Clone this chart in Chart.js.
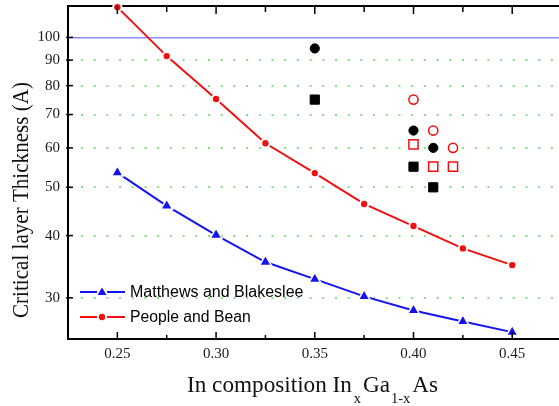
<!DOCTYPE html>
<html>
<head>
<meta charset="utf-8">
<script src="https://cdn.jsdelivr.net/npm/chart.js@4.4.1/dist/chart.umd.min.js"></script>
<style>
  html, body { margin: 0; padding: 0; background: #fff; }
  #wrap { width: 559px; height: 406px; }
</style>
</head>
<body>
<div id="wrap"><canvas id="chart" width="559" height="406"></canvas></div>
<script>
// composition x and the two model curves
const composition = [0.25, 0.275, 0.30, 0.325, 0.35, 0.375, 0.40, 0.425, 0.45];
const matthewsBlakeslee = [53.5, 45.9, 40.1, 35.4, 32.7, 30.2, 28.3, 26.9, 25.6];
const peopleBean = [115, 91.7, 75.2, 61.3, 53.4, 46.3, 41.8, 37.7, 34.9];

// experimental points
const blackCircleX = [0.35, 0.40, 0.41];
const blackCircleY = [95, 65, 60];
const blackSquareX = [0.35, 0.40, 0.41];
const blackSquareY = [75, 55, 50];
const redCircleX = [0.40, 0.41, 0.42];
const redCircleY = [75, 65, 60];
const redSquareX = [0.40, 0.41, 0.42];
const redSquareY = [61, 55, 55];

// ticks
const xTicks = [0.25, 0.30, 0.35, 0.40, 0.45];
const xMinorTicks = [0.275, 0.325, 0.375, 0.425];
const yTicks = [30, 40, 50, 60, 70, 80, 90, 100];

const RED = '#f01010';
const BLUE = '#1414f0';
const SERIF = '"Liberation Serif", "Times New Roman", serif';

const pts = (xs, ys) => xs.map((x, i) => ({ x: x, y: ys[i] }));

// no automatic label overflow padding, the plot area is set by hand
function noPad(s) {
    s.paddingLeft = 0; s.paddingRight = 0; s.paddingTop = 0; s.paddingBottom = 0;
}

// titles, in-plot legend and inward tick marks
const decorations = {
    id: 'decorations',
    afterDraw(chart) {
        const ctx = chart.ctx;
        const xs = chart.scales.x;
        const ys = chart.scales.y;
        const area = chart.chartArea;

        ctx.save();
        ctx.strokeStyle = '#000';
        ctx.lineWidth = 1.5;
        xTicks.forEach(v => {
            const px = xs.getPixelForValue(v);
            ctx.beginPath();
            ctx.moveTo(px, area.bottom); ctx.lineTo(px, area.bottom - 7);
            ctx.moveTo(px, area.top); ctx.lineTo(px, area.top + 8);
            ctx.stroke();
        });
        xMinorTicks.forEach(v => {
            const px = xs.getPixelForValue(v);
            ctx.beginPath();
            ctx.moveTo(px, area.bottom); ctx.lineTo(px, area.bottom - 4);
            ctx.moveTo(px, area.top); ctx.lineTo(px, area.top + 6);
            ctx.stroke();
        });
        yTicks.forEach(v => {
            const py = ys.getPixelForValue(v);
            ctx.beginPath();
            ctx.moveTo(area.left - 2, py); ctx.lineTo(area.left + 5, py);
            ctx.stroke();
        });

        // y title
        ctx.fillStyle = '#111';
        ctx.font = '23px ' + SERIF;
        const yTitle = 'Critical layer Thickness (A)';
        const w = ctx.measureText(yTitle).width;
        ctx.translate(22, 200);
        ctx.rotate(-Math.PI / 2);
        ctx.scale(236 / w, 1);
        ctx.textAlign = 'center';
        ctx.textBaseline = 'middle';
        ctx.fillText(yTitle, 0, 0);
        ctx.restore();

        // x title with subscripts
        ctx.save();
        ctx.fillStyle = '#111';
        ctx.textBaseline = 'alphabetic';
        const parts = [
            ['In composition In', 24, 0, 2],
            ['x', 15, 11, 2],
            ['Ga', 24, 0, 1],
            ['1-x', 15, 11, 2],
            ['As', 24, 0, 0]
        ];
        let total = 0;
        parts.forEach(p => { ctx.font = p[1] + 'px ' + SERIF; total += ctx.measureText(p[0]).width + p[3]; });
        ctx.translate(187, 0);
        ctx.scale(251 / total, 1);
        let cx = 0;
        parts.forEach(p => {
            ctx.font = p[1] + 'px ' + SERIF;
            ctx.fillText(p[0], cx, 391.5 + p[2]);
            cx += ctx.measureText(p[0]).width + p[3];
        });
        ctx.restore();

        // legend inside plot
        ctx.save();
        const items = chart.data.datasets.filter(d => d.inLegend);
        items.forEach((d, i) => {
            const y = 292 + i * 25;
            ctx.strokeStyle = d.borderColor;
            ctx.lineWidth = 2;
            ctx.beginPath();
            ctx.moveTo(80, y); ctx.lineTo(97, y);
            ctx.moveTo(107, y); ctx.lineTo(125, y);
            ctx.stroke();
            ctx.fillStyle = d.borderColor;
            ctx.beginPath();
            if (d.pointStyle === 'triangle') {
                ctx.moveTo(102, y - 4.5); ctx.lineTo(106.5, y + 3); ctx.lineTo(97.5, y + 3);
            } else {
                ctx.arc(102, y, 3.2, 0, Math.PI * 2);
            }
            ctx.closePath();
            ctx.fill();
            ctx.fillStyle = '#000';
            ctx.font = '16px "Liberation Sans", Arial, sans-serif';
            ctx.textBaseline = 'middle';
            const tw = ctx.measureText(d.label).width;
            const target = d.label.length * 8.05;
            ctx.save();
            ctx.translate(130, y + 1);
            ctx.scale(Math.min(1, target / tw), 1);
            ctx.fillText(d.label, 0, 0);
            ctx.restore();
        });
        ctx.restore();
    }
};

new Chart(document.getElementById('chart'), {
    type: 'scatter',
    data: {
        datasets: [
            {
                label: 'Matthews and Blakeslee',
                inLegend: true,
                data: pts(composition, matthewsBlakeslee),
                showLine: true,
                borderColor: BLUE,
                backgroundColor: BLUE,
                borderWidth: 2,
                pointStyle: 'triangle',
                pointRadius: 6.8,
                pointBorderColor: '#fff',
                pointBorderWidth: 1.5,
                tension: 0
            },
            {
                label: 'People and Bean',
                inLegend: true,
                data: pts(composition, peopleBean),
                showLine: true,
                borderColor: RED,
                backgroundColor: RED,
                borderWidth: 2,
                pointStyle: 'circle',
                pointRadius: 4.2,
                pointBorderColor: '#fff',
                pointBorderWidth: 2,
                tension: 0
            },
            {
                label: 'exp filled circle',
                data: pts(blackCircleX, blackCircleY),
                backgroundColor: '#000',
                borderColor: '#000',
                pointStyle: 'circle',
                pointRadius: 4.6
            },
            {
                label: 'exp filled square',
                data: pts(blackSquareX, blackSquareY),
                backgroundColor: '#000',
                borderColor: '#000',
                pointStyle: 'rect',
                pointRadius: 6.5
            },
            {
                label: 'exp open circle',
                data: pts(redCircleX, redCircleY),
                backgroundColor: '#fff',
                borderColor: RED,
                borderWidth: 1.5,
                pointStyle: 'circle',
                pointRadius: 4.6
            },
            {
                label: 'exp open square',
                data: pts(redSquareX, redSquareY),
                backgroundColor: '#fff',
                borderColor: RED,
                borderWidth: 1.5,
                pointStyle: 'rect',
                pointRadius: 6.5
            }
        ]
    },
    options: {
        responsive: false,
        animation: false,
        clip: false,
        layout: { padding: 0, autoPadding: false },
        plugins: {
            legend: { display: false },
            tooltip: { enabled: false }
        },
        scales: {
            x: {
                type: 'linear',
                position: 'bottom',
                min: 0.225,
                max: 0.4737,
                afterFit: s => { s.height = 67; noPad(s); },
                afterBuildTicks: s => { s.ticks = xTicks.map(v => ({ value: v })); },
                grid: { display: false, drawTicks: false },
                border: { display: true, color: '#000', width: 2 },
                ticks: {
                    padding: 6,
                    color: '#1a1a1a',
                    font: { family: SERIF, size: 15 },
                    callback: v => v.toFixed(2)
                }
            },
            xTop: {
                type: 'linear',
                position: 'top',
                min: 0.225,
                max: 0.4737,
                afterFit: s => { s.height = 6; noPad(s); },
                grid: { display: false, drawTicks: false },
                border: { display: true, color: '#000', width: 2 },
                ticks: { display: false }
            },
            y: {
                type: 'logarithmic',
                position: 'left',
                min: 24.8,
                max: 115.6,
                afterFit: s => { s.width = 68; noPad(s); },
                afterBuildTicks: s => { s.ticks = yTicks.map(v => ({ value: v })); },
                grid: {
                    drawTicks: false,
                    lineWidth: c => (c.tick && c.tick.value === 100 ? 1.5 : 2),
                    color: c => (c.tick && c.tick.value === 100 ? '#8c8cff' : '#82e282')
                },
                border: {
                    display: true,
                    color: '#000',
                    width: 2,
                    dash: c => (c.tick && c.tick.value === 100 ? [] : [2, 10.7]),
                    dashOffset: -12
                },
                ticks: {
                    padding: 8,
                    color: '#1a1a1a',
                    font: { family: SERIF, size: 15 },
                    callback: v => String(v)
                }
            }
        }
    },
    plugins: [decorations]
});
</script>
</body>
</html>
